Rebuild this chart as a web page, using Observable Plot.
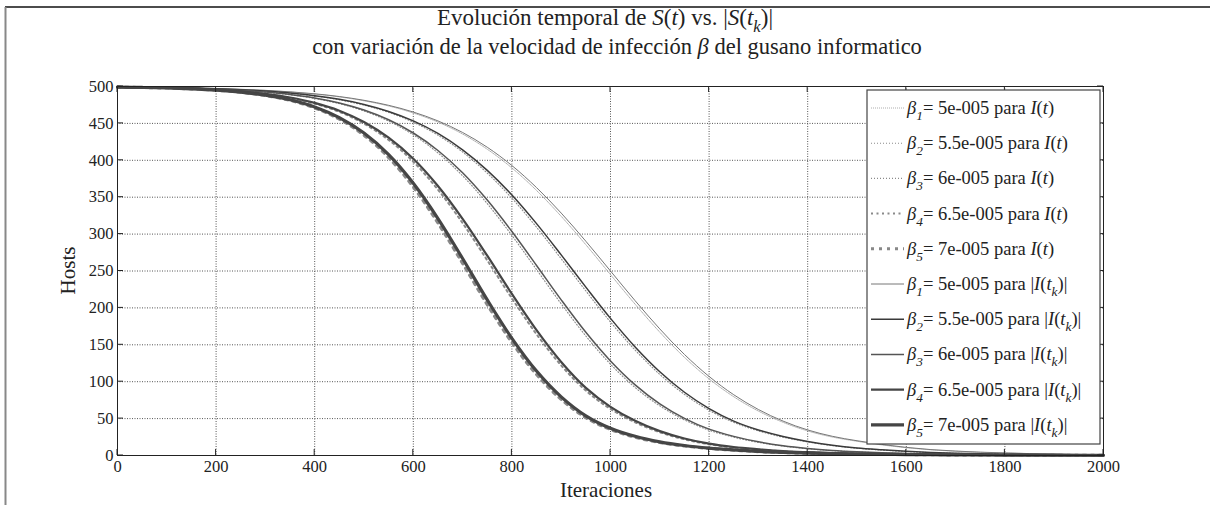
<!DOCTYPE html>
<html><head><meta charset="utf-8">
<script src="https://cdn.jsdelivr.net/npm/d3@7"></script>
<script src="https://cdn.jsdelivr.net/npm/@observablehq/plot@0.6"></script>
<style>html,body{margin:0;padding:0;background:#fff}svg{display:block}</style>
</head><body><div id="chart"></div>
<script>
const iteraciones = [0,50,100,150,200,250,300,350,400,450,500,550,600,650,700,750,800,850,900,950,1000,1050,1100,1150,1200,1250,1300,1350,1400,1450,1500,1550,1600,1650,1700,1750,1800,1850,1900,1950,2000];

// I(t) (dotted) series
const It_b1 = [499.2,499.0,498.5,497.9,497.2,496.0,494.6,492.5,489.7,485.9,480.6,473.6,464.1,451.8,435.6,415.0,389.6,359.1,324.1,285.6,245.1,205.0,167.1,133.0,103.8,79.6,60.2,45.0,33.3,25.0,19.3,14.4,10.6,7.7,5.8,4.3,3.4,2.5,1.9,1.4,1.0];
const It_b2 = [499.2,498.9,498.4,497.7,496.8,495.4,493.5,490.8,487.1,481.9,474.7,464.9,451.6,434.0,411.2,382.6,348.6,309.3,266.6,223.0,180.9,142.8,109.9,82.8,61.3,44.9,33.3,24.8,18.4,13.4,9.9,7.4,5.5,3.9,3.0,2.3,1.65,1.25,0.98,0.78,0.58];
const It_b3 = [499.2,498.8,498.2,497.5,496.2,494.6,492.1,488.7,483.8,476.7,466.8,453.1,434.5,410.0,379.0,341.3,298.2,251.9,205.5,161.9,123.7,92.1,67.3,48.3,34.2,24.8,17.7,12.7,9.1,6.6,4.9,3.6,2.75,2.0,1.5,1.1,0.85,0.63,0.49,0.39,0.29];
const It_b4 = [499.2,498.6,498.0,497.0,495.4,493.1,489.6,484.4,476.7,465.7,449.7,427.6,398.1,360.2,314.9,264.5,212.9,164.3,122.1,88.0,63.1,44.9,31.5,21.9,15.2,10.9,8.1,5.7,4.3,3.15,2.4,1.8,1.35,1.05,0.77,0.58,0.48,0.38,0.29,0.24,0.19];
const It_b5 = [499.2,498.6,497.9,496.7,494.9,492.1,487.7,481.1,470.9,455.7,433.9,403.6,363.7,314.9,260.2,204.3,153.0,109.6,75.9,51.2,35.2,24.7,17.5,12.8,9.5,7.1,5.2,4.0,3.05,2.4,1.9,1.5,1.25,0.96,0.77,0.67,0.58,0.48,0.38,0.34,0.29];

// |I(t_k)| (solid) series
const Itk_b1 = [499.2,499.0,498.6,498.0,497.3,496.2,494.8,492.8,490.1,486.4,481.3,474.5,465.4,453.4,437.7,417.7,392.9,363.0,328.5,290.3,250.0,209.7,171.5,136.9,107.1,82.3,62.3,46.6,34.6,26.0,20.0,15.0,11.0,8.0,6.0,4.5,3.5,2.6,2.0,1.5,1.1];
const Itk_b2 = [499.2,498.9,498.5,497.8,496.9,495.6,493.8,491.2,487.6,482.6,475.7,466.2,453.4,436.4,414.2,386.4,353.0,314.2,271.8,228.2,185.8,147.1,113.5,85.7,63.6,46.6,34.6,25.8,19.1,14.0,10.3,7.8,5.7,4.1,3.1,2.4,1.75,1.35,1.03,0.82,0.62];
const Itk_b3 = [499.2,498.9,498.3,497.6,496.4,494.8,492.5,489.2,484.5,477.7,468.1,454.9,437.0,413.3,383.1,346.1,303.5,257.5,210.9,166.9,128.1,95.7,70.0,50.3,35.7,25.9,18.5,13.2,9.5,6.9,5.1,3.8,2.85,2.1,1.6,1.15,0.9,0.68,0.52,0.42,0.31];
const Itk_b4 = [499.2,498.7,498.1,497.1,495.6,493.4,490.1,485.1,477.8,467.2,451.9,430.6,402.0,365.1,320.6,270.7,219.0,169.9,126.8,91.7,66.0,47.0,33.0,23.0,16.0,11.5,8.5,6.0,4.5,3.3,2.5,1.9,1.4,1.1,0.8,0.6,0.5,0.4,0.3,0.25,0.2];
const Itk_b5 = [499.2,498.7,498.0,496.9,495.2,492.5,488.3,482.0,472.3,457.8,436.9,407.7,368.9,321.1,266.9,210.9,158.8,114.4,79.5,53.8,37.0,26.0,18.5,13.5,10.0,7.5,5.5,4.2,3.2,2.5,2.0,1.6,1.3,1.0,0.8,0.7,0.6,0.5,0.4,0.35,0.3];

const betaLabels = ["5e-005","5.5e-005","6e-005","6.5e-005","7e-005"];
const xTicks = [0,200,400,600,800,1000,1200,1400,1600,1800,2000];
const yTicks = [0,50,100,150,200,250,300,350,400,450,500];

const dottedStyles = [
  {stroke:"#9a9a9a", w:0.8, dash:"1,1"},
  {stroke:"#8a8a8a", w:1.1, dash:"1,2"},
  {stroke:"#8a8a8a", w:1.1, dash:"1,2"},
  {stroke:"#8a8a8a", w:2, dash:"2,3.5"},
  {stroke:"#888888", w:3, dash:"3,5"}
];
const solidStyles = [
  {stroke:"#777777", w:1},
  {stroke:"#3a3a3a", w:1.5},
  {stroke:"#555555", w:1.5},
  {stroke:"#454545", w:2.2},
  {stroke:"#454545", w:3.2}
];

const dottedSeries = [It_b1,It_b2,It_b3,It_b4,It_b5];
const solidSeries = [Itk_b1,Itk_b2,Itk_b3,Itk_b4,Itk_b5];
const toRows = arr => iteraciones.map((x,i)=>({x, y: arr[i]}));

const ff = "'Liberation Serif','Times New Roman',serif";

const marks = [
  Plot.gridX(xTicks, {stroke:"#555", strokeOpacity:1, strokeWidth:1, strokeDasharray:"1,1.5"}),
  Plot.gridY(yTicks, {stroke:"#555", strokeOpacity:1, strokeWidth:1, strokeDasharray:"1,1.5"}),
];
dottedSeries.forEach((s,i)=>{
  const st = dottedStyles[i];
  marks.push(Plot.line(toRows(s), {x:"x", y:"y", stroke:st.stroke, strokeWidth:st.w, strokeDasharray:st.dash, curve:"catmull-rom"}));
});
solidSeries.forEach((s,i)=>{
  const st = solidStyles[i];
  marks.push(Plot.line(toRows(s), {x:"x", y:"y", stroke:st.stroke, strokeWidth:st.w, curve:"catmull-rom"}));
});
marks.push(Plot.frame({stroke:"#222", strokeWidth:1}));
marks.push(Plot.axisX(xTicks, {tickSize:0, tickPadding:5, tickFormat:d=>String(d), label:null, fontSize:16.5, fill:"#222"}));
marks.push(Plot.axisY(yTicks, {tickSize:0, tickPadding:4, tickFormat:d=>String(d), label:null, fontSize:16.5, fill:"#222"}));

const chart = Plot.plot({
  width:1210, height:505,
  marginTop:86, marginLeft:117, marginRight:107, marginBottom:50,
  x:{domain:[0,2000]},
  y:{domain:[0,500]},
  style:{fontFamily:ff, fontSize:"16px", background:"#fff", color:"#222", overflow:"visible"},
  marks
});
document.getElementById("chart").appendChild(chart);

const xs = chart.scale("x"), ys = chart.scale("y");
const svg = d3.select(chart);
const X0 = xs.apply(0), X1 = xs.apply(2000), Y0 = ys.apply(0), Y1 = ys.apply(500);

// inward ticks (MATLAB style)
const tk = svg.append("g").attr("stroke","#222").attr("stroke-width",1);
xTicks.forEach(v=>{
  const px = xs.apply(v);
  tk.append("line").attr("x1",px).attr("x2",px).attr("y1",Y0).attr("y2",Y0-6);
  tk.append("line").attr("x1",px).attr("x2",px).attr("y1",Y1).attr("y2",Y1+6);
});
yTicks.forEach(v=>{
  const py = ys.apply(v);
  tk.append("line").attr("x1",X0).attr("x2",X0+6).attr("y1",py).attr("y2",py);
  tk.append("line").attr("x1",X1).attr("x2",X1-6).attr("y1",py).attr("y2",py);
});

// figure border
svg.append("line").attr("x1",5).attr("x2",1210).attr("y1",7).attr("y2",7).attr("stroke","#111").attr("stroke-width",1.5);
svg.append("line").attr("x1",5.5).attr("x2",5.5).attr("y1",7).attr("y2",505).attr("stroke","#888").attr("stroke-width",2);

function rich(parent, x, y, parts, size, anchor){
  const txt = parent.append("text").attr("x",x).attr("y",y)
    .attr("font-family",ff).attr("font-size",size).attr("fill","#222")
    .attr("text-anchor",anchor||"start");
  let inSub=false;
  parts.forEach(p=>{
    const ts = txt.append("tspan").text(p.t);
    if(p.i) ts.attr("font-style","italic");
    if(p.sub){
      ts.attr("font-size", size*0.72);
      if(!inSub){ ts.attr("dy", size*0.32); inSub=true; }
    } else if(inSub){ ts.attr("dy", -size*0.32); inSub=false; }
  });
  return txt;
}

// titles
rich(svg, 605, 25, [{t:"Evolución temporal de "},{t:"S",i:1},{t:"("},{t:"t",i:1},{t:") vs. |"},{t:"S",i:1},{t:"("},{t:"t",i:1},{t:"k",i:1,sub:1},{t:")|"}], 23, "middle");
rich(svg, 617, 54, [{t:"con variación de la velocidad de infección "},{t:"β",i:1},{t:" del gusano informatico"}], 22.5, "middle");

// axis labels
svg.append("text").attr("x",606).attr("y",497).attr("text-anchor","middle")
  .attr("font-family",ff).attr("font-size",21).attr("fill","#222").text("Iteraciones");
svg.append("text").attr("transform",`translate(75,${(Y0+Y1)/2}) rotate(-90)`).attr("text-anchor","middle")
  .attr("font-family",ff).attr("font-size",21).attr("fill","#222").text("Hosts");

// legend
const lg = svg.append("g");
lg.append("rect").attr("x",867).attr("y",90).attr("width",233).attr("height",354)
  .attr("fill","#fff").attr("stroke","#444").attr("stroke-width",1.2);
const rowH = 35.2, row0 = 108;
const entries = [];
dottedStyles.forEach((st,i)=>entries.push({st, dotted:true, i}));
solidStyles.forEach((st,i)=>entries.push({st, dotted:false, i}));
entries.forEach((e,r)=>{
  const yy = row0 + r*rowH;
  const ln = lg.append("line").attr("x1",871).attr("x2",904).attr("y1",yy).attr("y2",yy)
    .attr("stroke",e.st.stroke).attr("stroke-width",e.st.w);
  if(e.dotted) ln.attr("stroke-dasharray",e.st.dash);
  const parts = [{t:"β",i:1},{t:String(e.i+1),i:1,sub:1},{t:"= "+betaLabels[e.i]+" para "}];
  if(e.dotted){ parts.push({t:"I",i:1},{t:"("},{t:"t",i:1},{t:")"}); }
  else { parts.push({t:"|"},{t:"I",i:1},{t:"("},{t:"t",i:1},{t:"k",i:1,sub:1},{t:")|"}); }
  rich(lg, 907, yy+6, parts, 18.5);
});
</script></body></html>
